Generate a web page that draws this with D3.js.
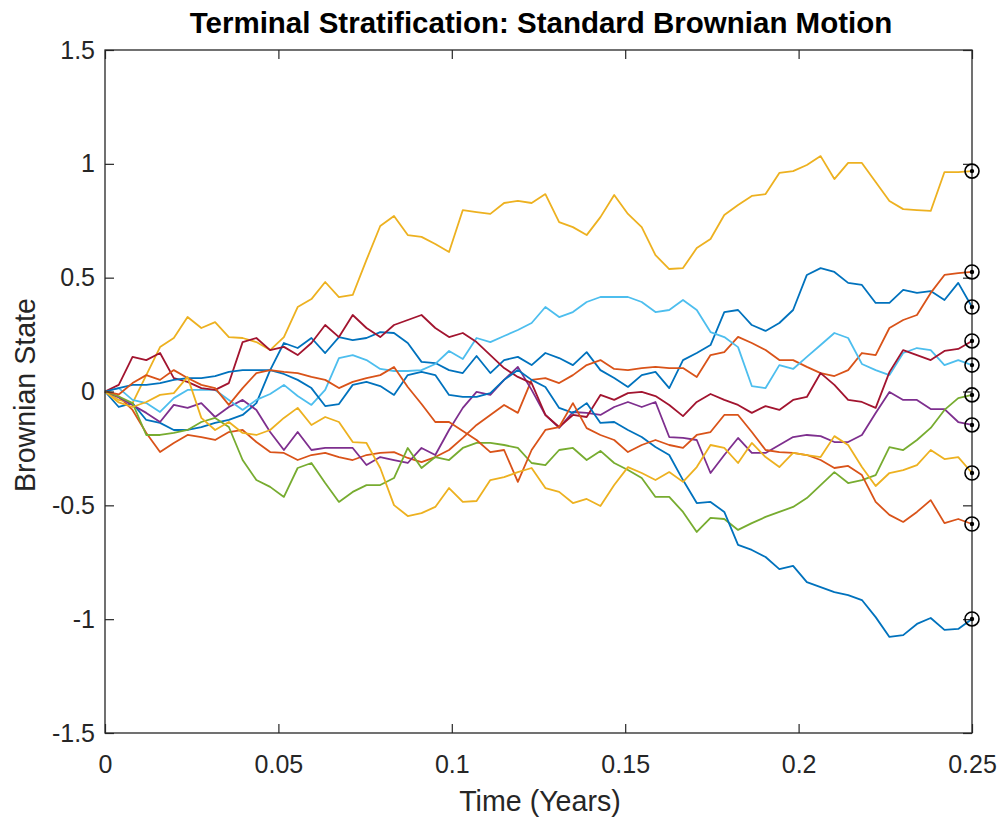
<!DOCTYPE html>
<html>
<head>
<meta charset="utf-8">
<script src="https://cdn.jsdelivr.net/npm/d3@7/dist/d3.min.js"></script>
<style>
  body { margin: 0; background: #fff; }
  svg { display: block; font-family: "Liberation Sans", Arial, Helvetica, sans-serif; }
</style>
</head>
<body>
<script>
// time grid: 63 daily steps over a quarter year
var T = 0.25;
var dt = 1 / 252;

// brownian paths, one value per step
var blue1 = [0,-0.068,-0.051,-0.125,-0.138,-0.169,-0.169,-0.156,-0.138,-0.125,
  -0.103,-0.051,0.094,0.213,0.191,0.235,0.169,0.239,0.226,0.235,
  0.261,0.257,0.213,0.130,0.125,0.094,0.081,0.156,0.081,0.138,
  0.152,0.116,0.169,0.147,0.116,0.173,0.094,0.059,0.020,0.072,
  0.086,0.015,0.138,0.169,0.204,0.349,0.358,0.292,0.266,0.301,
  0.358,0.512,0.542,0.525,0.477,0.468,0.389,0.389,0.446,0.433,
  0.441,0.402,0.477,0.371];
var orange1 = [0,-0.022,-0.081,-0.182,-0.266,-0.226,-0.191,-0.200,-0.213,-0.178,
  -0.169,-0.222,-0.266,-0.270,-0.301,-0.279,-0.270,-0.288,-0.301,-0.279,
  -0.270,-0.266,-0.292,-0.310,-0.288,-0.257,-0.204,-0.147,-0.103,-0.059,
  -0.094,0.051,0.059,0.037,0.072,0.116,0.138,0.099,0.094,0.103,
  0.108,0.103,0.103,0.064,0.160,0.173,0.240,0.213,0.182,0.138,
  0.138,0.108,0.081,0.068,0.094,0.169,0.160,0.279,0.314,0.336,
  0.433,0.512,0.520,0.525];
var yellow1 = [0,-0.037,-0.051,0.072,0.195,0.235,0.327,0.279,0.305,0.239,
  0.235,0.217,0.182,0.239,0.371,0.406,0.481,0.415,0.424,0.578,
  0.727,0.771,0.687,0.679,0.648,0.613,0.797,0.788,0.780,0.828,
  0.837,0.828,0.867,0.744,0.722,0.687,0.766,0.863,0.780,0.722,
  0.599,0.538,0.542,0.630,0.670,0.775,0.819,0.859,0.867,0.960,
  0.968,0.995,1.034,0.933,1.004,1.004,0.920,0.837,0.801,0.797,
  0.793,0.964,0.964,0.968];
var purple = [0,-0.026,-0.059,-0.094,-0.134,-0.059,-0.072,-0.051,-0.112,-0.068,
  -0.037,-0.081,-0.178,-0.257,-0.178,-0.257,-0.248,-0.248,-0.248,-0.323,
  -0.288,-0.301,-0.314,-0.248,-0.279,-0.169,-0.072,-0.002,-0.015,0.051,
  0.108,0.007,-0.103,-0.160,-0.090,-0.094,-0.103,-0.068,-0.046,-0.068,
  -0.046,-0.200,-0.204,-0.213,-0.358,-0.279,-0.204,-0.270,-0.270,-0.235,
  -0.200,-0.191,-0.196,-0.222,-0.222,-0.191,-0.094,-0.002,-0.037,-0.037,
  -0.077,-0.077,-0.134,-0.147];
var green = [0,-0.022,-0.051,-0.191,-0.191,-0.182,-0.169,-0.134,-0.116,-0.156,
  -0.301,-0.389,-0.419,-0.463,-0.336,-0.314,-0.402,-0.485,-0.441,-0.411,
  -0.411,-0.380,-0.248,-0.336,-0.288,-0.301,-0.248,-0.226,-0.226,-0.235,
  -0.248,-0.314,-0.323,-0.257,-0.248,-0.301,-0.261,-0.314,-0.345,-0.380,
  -0.463,-0.463,-0.529,-0.617,-0.555,-0.560,-0.608,-0.578,-0.551,-0.529,
  -0.507,-0.468,-0.411,-0.354,-0.402,-0.389,-0.367,-0.244,-0.257,-0.213,
  -0.160,-0.081,-0.029,-0.015];
var lightBlue = [0,0.015,-0.037,-0.051,-0.090,-0.029,0.007,0.007,0.007,-0.037,
  -0.081,-0.037,-0.011,0.029,-0.020,-0.059,0.007,0.147,0.160,0.138,
  0.099,0.090,0.090,0.094,0.121,0.178,0.143,0.235,0.217,0.244,
  0.270,0.301,0.371,0.327,0.349,0.393,0.415,0.415,0.415,0.393,
  0.349,0.358,0.402,0.358,0.261,0.239,0.195,0.024,0.015,0.116,
  0.099,0.152,0.204,0.257,0.235,0.121,0.094,0.072,0.169,0.191,
  0.182,0.116,0.138,0.116];
var darkRed = [0,0.029,0.152,0.138,0.169,0.059,0.042,0.015,0.007,0.037,
  0.217,0.235,0.182,0.196,0.160,0.213,0.292,0.239,0.336,0.279,
  0.239,0.292,0.314,0.336,0.279,0.239,0.257,0.217,0.160,0.103,
  0.064,0.037,-0.103,-0.156,-0.103,-0.112,-0.015,-0.037,-0.007,-0.002,
  -0.020,-0.059,-0.108,-0.046,-0.011,-0.037,-0.059,-0.094,-0.064,-0.081,
  -0.037,-0.024,0.081,0.029,-0.037,-0.046,-0.072,0.085,0.182,0.160,
  0.138,0.178,0.187,0.222];
var blue2 = [0,0.015,0.029,0.029,0.037,0.051,0.059,0.059,0.068,0.086,
  0.094,0.094,0.094,0.077,0.051,0.015,-0.064,-0.055,0.029,0.042,
  0.024,-0.015,0.072,0.086,0.072,-0.015,-0.024,-0.024,-0.007,0.051,
  0.094,0.051,0.020,-0.072,-0.094,-0.051,-0.138,-0.134,-0.169,-0.200,
  -0.244,-0.279,-0.389,-0.490,-0.485,-0.529,-0.674,-0.696,-0.727,-0.780,
  -0.766,-0.837,-0.859,-0.881,-0.894,-0.916,-0.991,-1.078,-1.070,-1.021,
  -0.995,-1.047,-1.043,-0.999];
var orange2 = [0,-0.013,0.037,0.072,0.051,0.094,0.059,0.029,0.015,-0.059,
  0.015,0.081,0.094,0.086,0.081,0.064,0.051,0.015,0.042,0.059,
  0.072,0.108,0.020,-0.055,-0.134,-0.134,-0.173,-0.213,-0.266,-0.257,
  -0.397,-0.257,-0.169,-0.156,-0.051,-0.161,-0.191,-0.213,-0.266,-0.235,
  -0.213,-0.235,-0.248,-0.191,-0.178,-0.103,-0.103,-0.178,-0.257,-0.266,
  -0.270,-0.279,-0.301,-0.336,-0.327,-0.367,-0.485,-0.542,-0.573,-0.529,
  -0.477,-0.578,-0.560,-0.582];
var yellow2 = [0,-0.048,-0.068,-0.046,-0.015,-0.007,0.064,-0.116,-0.169,-0.134,
  -0.182,-0.191,-0.169,-0.116,-0.072,-0.147,-0.112,-0.134,-0.222,-0.226,
  -0.336,-0.499,-0.547,-0.534,-0.507,-0.424,-0.485,-0.481,-0.389,-0.376,
  -0.354,-0.336,-0.424,-0.441,-0.490,-0.472,-0.503,-0.411,-0.332,-0.358,
  -0.389,-0.354,-0.397,-0.332,-0.235,-0.248,-0.314,-0.226,-0.288,-0.332,
  -0.270,-0.279,-0.288,-0.196,-0.235,-0.332,-0.415,-0.358,-0.345,-0.323,
  -0.257,-0.297,-0.288,-0.358];

var paths = [blue1, orange1, yellow1, purple, green, lightBlue, darkRed, blue2, orange2, yellow2];
// matlab default colour order
var colors = ["#0072BD", "#D95319", "#EDB120", "#7E2F8E", "#77AC30", "#4DBEEE", "#A2142F"];

var xTicks = [0, 0.05, 0.1, 0.15, 0.2, 0.25];
var yTicks = [-1.5, -1, -0.5, 0, 0.5, 1, 1.5];

// plot box in page pixels
var margin = {top: 50, right: 29, bottom: 86, left: 105},
    fullwidth = 1001,
    fullheight = 819,
    width = fullwidth - margin.left - margin.right,
    height = fullheight - margin.top - margin.bottom;

var x = d3.scaleLinear().domain([0, T]).range([0, width]);
var y = d3.scaleLinear().domain([-1.5, 1.5]).range([height, 0]);

var svg = d3.select("body").append("svg")
    .attr("width", fullwidth)
    .attr("height", fullheight);

var g = svg.append("g")
    .attr("transform", "translate(" + margin.left + "," + margin.top + ")");

var line = d3.line()
    .x(function(d, i) { return x(i * dt); })
    .y(function(d) { return y(d); });

// the paths
g.selectAll(".path")
    .data(paths)
  .enter().append("path")
    .attr("class", "path")
    .attr("d", line)
    .attr("fill", "none")
    .attr("stroke", function(d, i) { return colors[i % colors.length]; })
    .attr("stroke-width", 1.8)
    .attr("stroke-linejoin", "round");

// axes: ticks point inwards on all four sides
var axisColor = "#262626";
var plain = function(d) { return String(d); };  // hyphen minus like matlab

function styleAxis(sel, labels) {
  sel.selectAll(".domain").remove();
  sel.selectAll(".tick line").attr("stroke", axisColor).attr("stroke-width", 1.2);
  sel.selectAll(".tick text")
    .attr("fill", axisColor)
    .style("font-size", labels ? "25px" : "0px");
}

g.append("g")
    .attr("transform", "translate(0," + height + ")")
    .call(d3.axisBottom(x).tickValues(xTicks).tickFormat(plain).tickSize(-9).tickPadding(22))
    .call(styleAxis, true);

g.append("g")
    .call(d3.axisTop(x).tickValues(xTicks).tickFormat("").tickSize(-9))
    .call(styleAxis, false);

g.append("g")
    .call(d3.axisLeft(y).tickValues(yTicks).tickFormat(plain).tickSize(-9).tickPadding(10))
    .call(styleAxis, true);

g.append("g")
    .attr("transform", "translate(" + width + ",0)")
    .call(d3.axisRight(y).tickValues(yTicks).tickFormat("").tickSize(-9))
    .call(styleAxis, false);

// box
g.append("rect")
    .attr("width", width)
    .attr("height", height)
    .attr("fill", "none")
    .attr("stroke", axisColor)
    .attr("stroke-width", 1.3);

// terminal values marked at T
var ends = g.selectAll(".end")
    .data(paths)
  .enter().append("g")
    .attr("class", "end")
    .attr("transform", function(d) { return "translate(" + x(T) + "," + y(d[d.length - 1]) + ")"; });

ends.append("circle")
    .attr("r", 7)
    .attr("fill", "none")
    .attr("stroke", "#000")
    .attr("stroke-width", 1.6);

ends.append("circle")
    .attr("r", 2.2)
    .attr("fill", "#000");

// title and axis labels
svg.append("text")
    .attr("x", 541)
    .attr("y", 33)
    .attr("text-anchor", "middle")
    .style("font-size", "29.5px")
    .style("font-weight", "bold")
    .attr("fill", "#000")
    .text("Terminal Stratification: Standard Brownian Motion");

svg.append("text")
    .attr("x", 540)
    .attr("y", 811)
    .attr("text-anchor", "middle")
    .style("font-size", "28.6px")
    .attr("fill", axisColor)
    .text("Time (Years)");

svg.append("text")
    .attr("transform", "translate(35,395) rotate(-90)")
    .attr("text-anchor", "middle")
    .style("font-size", "28.6px")
    .attr("fill", axisColor)
    .text("Brownian State");
</script>
</body>
</html>
